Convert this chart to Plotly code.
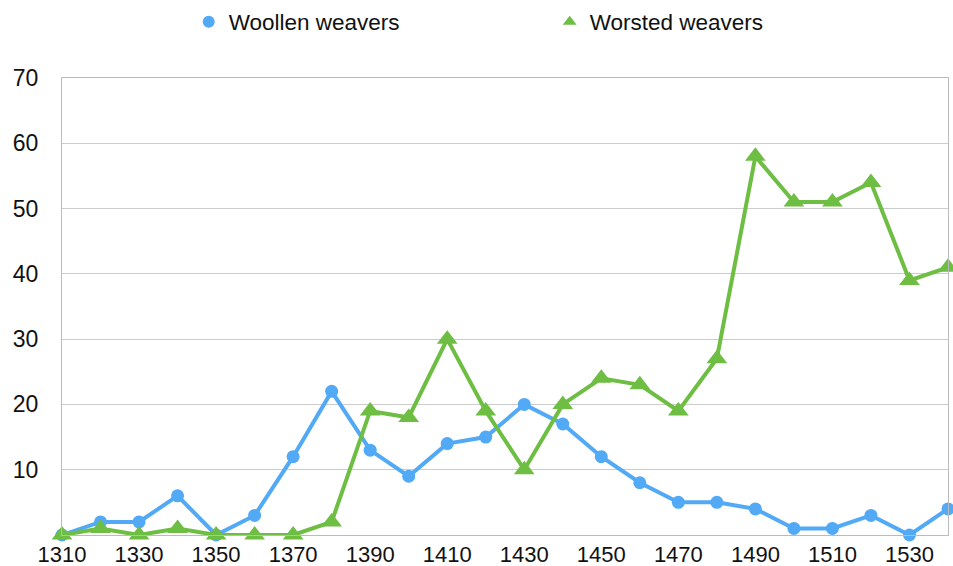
import plotly.graph_objects as go

years = [1310, 1320, 1330, 1340, 1350, 1360, 1370, 1380, 1390, 1400, 1410, 1420,
         1430, 1440, 1450, 1460, 1470, 1480, 1490, 1500, 1510, 1520, 1530, 1540]
woollen = [0, 2, 2, 6, 0, 3, 12, 22, 13, 9, 14, 15,
           20, 17, 12, 8, 5, 5, 4, 1, 1, 3, 0, 4]
worsted = [0, 1, 0, 1, 0, 0, 0, 2, 19, 18, 30, 19,
           10, 20, 24, 23, 19, 27, 58, 51, 51, 54, 39, 41]
x_ticks = [1310, 1330, 1350, 1370, 1390, 1410, 1430, 1450, 1470, 1490, 1510, 1530]
y_ticks = [10, 20, 30, 40, 50, 60, 70]

blue = "#52A9F5"
green = "#6DBE43"
font = "Liberation Sans, Arial, Helvetica, sans-serif"

fig = go.Figure()
fig.add_trace(go.Scatter(
    x=years, y=woollen, name="Woollen weavers", mode="lines+markers",
    line=dict(color=blue, width=4),
    marker=dict(symbol="circle", size=13, color=blue),
    cliponaxis=False, showlegend=False,
))
fig.add_trace(go.Scatter(
    x=years, y=worsted, name="Worsted weavers", mode="lines+markers",
    line=dict(color=green, width=4),
    marker=dict(symbol="triangle-up", size=18, color=green),
    cliponaxis=False, showlegend=False,
))
# legend entries (markers only, as in the reference)
fig.add_trace(go.Scatter(
    x=[None], y=[None], name="Woollen weavers", mode="markers",
    marker=dict(symbol="circle", size=13, color=blue),
))
fig.add_trace(go.Scatter(
    x=[None], y=[None], name="Worsted weavers", mode="markers",
    marker=dict(symbol="triangle-up", size=16, color=green),
))

fig.update_layout(
    width=953, height=566,
    margin=dict(l=62, r=5, t=78, b=31),
    paper_bgcolor="white", plot_bgcolor="white",
    font=dict(family=font, size=23, color="#111111"),
    showlegend=True,
    legend=dict(
        orientation="h", x=0.143, xanchor="left", y=0.961, yanchor="middle",
        yref="container", entrywidth=316, entrywidthmode="pixels",
        font=dict(size=22.5, family=font, color="#111111"),
        itemsizing="constant",
    ),
    xaxis=dict(
        range=[1310, 1540], tickvals=x_ticks, ticktext=[str(v) for v in x_ticks],
        showgrid=False, showline=True, linecolor="#bbbbbb", linewidth=1,
        mirror=True, ticks="", automargin=False,
        zeroline=False, tickfont=dict(size=22),
    ),
    yaxis=dict(
        range=[0, 70], tickvals=y_ticks, ticktext=[str(v) for v in y_ticks],
        showgrid=True, gridcolor="#cccccc", gridwidth=1,
        showline=True, linecolor="#bbbbbb", linewidth=1, mirror=True,
        ticks="outside", ticklen=18, tickcolor="rgba(0,0,0,0)",
        zeroline=False, tickfont=dict(size=23), automargin=False,
    ),
)

fig.write_html("out.html", config={"displayModeBar": False},
               post_script="document.body.style.margin='0px';document.body.style.overflow='hidden';")
